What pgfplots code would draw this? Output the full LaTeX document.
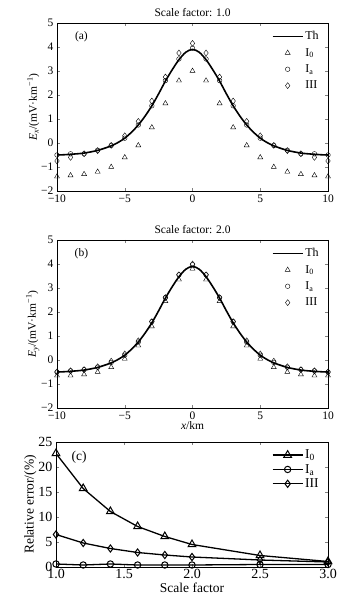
\documentclass[border=0pt]{standalone}
\usepackage{fontspec}
\setmainfont{Liberation Serif}
\usepackage{pgfplots}
\pgfplotsset{compat=1.18}
\begin{document}
\begin{tikzpicture}[x=1pt,y=1pt]
\useasboundingbox (0,0) rectangle (357,601);
\pgfplotsset{
  myax/.style={
    scale only axis, width=271pt, height=168pt,
    xmin=-10, xmax=10, ymin=-2, ymax=5,
    xtick={-10,-5,0,5,10}, xticklabels={−10,−5,0,5,10},
    ytick={-2,-1,0,1,2,3,4,5}, yticklabels={−2,−1,0,1,2,3,4,5},
    tick align=inside, major tick length=3pt,
    tick label style={font=\fontsize{11.5}{13}\selectfont},
    xticklabel style={yshift=0pt},
    label style={font=\fontsize{11.5}{13}\selectfont},
    title style={font=\fontsize{11.5}{13}\selectfont, yshift=-3pt},
    axis line style={line width=0.5pt},
    legend style={draw=none, fill=none, at={(0.985,0.975)}, anchor=north east,
      font=\fontsize{12}{14}\selectfont, row sep=3pt},
    legend cell align=left,
    ylabel style={yshift=-5pt},
  },
  thline/.style={black, line width=1.6pt, smooth, no marks,
    legend image code/.code={\draw[black, line width=1.6pt] (0cm,0cm) -- (1.05cm,0cm);}},
  mk/.style={only marks, mark size=2.6pt, mark options={black, line width=0.4pt, fill=none},
    legend image code/.code={\draw[##1] plot coordinates {(0.525cm,0cm)};}},
}
% ---------- (a)
\begin{axis}[myax, at={(57pt,410pt)}, anchor=south west,
  title={Scale factor: 1.0},
  ylabel={\textit{E\textsubscript{x}}/(mV·km\textsuperscript{−1})}]
\addplot[thline] coordinates {(-10,-0.5)(-9.5,-0.49)(-9,-0.47)(-8.5,-0.45)(-8,-0.42)(-7.5,-0.37)(-7,-0.31)(-6.5,-0.22)(-6,-0.12)(-5.5,0.02)(-5,0.2)(-4.5,0.45)(-4,0.75)(-3.5,1.12)(-3,1.55)(-2.5,2.05)(-2,2.58)(-1.5,3.05)(-1,3.47)(-0.5,3.78)(0,3.9)(0.5,3.78)(1,3.47)(1.5,3.05)(2,2.58)(2.5,2.05)(3,1.55)(3.5,1.12)(4,0.75)(4.5,0.45)(5,0.2)(5.5,0.02)(6,-0.12)(6.5,-0.22)(7,-0.31)(7.5,-0.37)(8,-0.42)(8.5,-0.45)(9,-0.47)(9.5,-0.49)(10,-0.5)};
\addlegendentry{Th}
\addplot[mk, mark=triangle, mark size=2.9pt] coordinates {(-10,-1.4)(-9,-1.35)(-8,-1.3)(-7,-1.2)(-6,-1.0)(-5,-0.6)(-4,-0.1)(-3,0.65)(-2,1.65)(-1,2.6)(0,3.0)(1,2.6)(2,1.65)(3,0.65)(4,-0.1)(5,-0.6)(6,-1.0)(7,-1.2)(8,-1.3)(9,-1.35)(10,-1.4)};
\addlegendentry{I\textsubscript{0}}
\addplot[mk, mark=o, mark size=2.3pt] coordinates {(-10,-0.5)(-9,-0.45)(-8,-0.45)(-7,-0.3)(-6,-0.1)(-5,0.2)(-4,0.75)(-3,1.55)(-2,2.6)(-1,3.5)(0,3.95)(1,3.5)(2,2.6)(3,1.55)(4,0.75)(5,0.2)(6,-0.1)(7,-0.3)(8,-0.45)(9,-0.45)(10,-0.5)};
\addlegendentry{I\textsubscript{a}}
\addplot[mk, mark=diamond, mark size=3pt] coordinates {(-10,-0.75)(-9,-0.6)(-8,-0.45)(-7,-0.32)(-6,-0.1)(-5,0.3)(-4,0.9)(-3,1.75)(-2,2.75)(-1,3.75)(0,4.15)(1,3.75)(2,2.75)(3,1.75)(4,0.9)(5,0.3)(6,-0.1)(7,-0.32)(8,-0.45)(9,-0.6)(10,-0.75)};
\addlegendentry{III}
\node[font=\fontsize{11.5}{13}\selectfont] at (rel axis cs:0.09,0.92) {(a)};
\end{axis}
% ---------- (b)
\begin{axis}[myax, at={(57pt,193pt)}, anchor=south west,
  title={Scale factor: 2.0},
  xlabel={\textit{x}/km}, xlabel style={yshift=5pt},
  ylabel={\textit{E\textsubscript{y}}/(mV·km\textsuperscript{−1})}]
\addplot[thline] coordinates {(-10,-0.5)(-9.5,-0.49)(-9,-0.47)(-8.5,-0.45)(-8,-0.42)(-7.5,-0.37)(-7,-0.31)(-6.5,-0.22)(-6,-0.12)(-5.5,0.02)(-5,0.2)(-4.5,0.45)(-4,0.75)(-3.5,1.12)(-3,1.55)(-2.5,2.05)(-2,2.58)(-1.5,3.05)(-1,3.47)(-0.5,3.78)(0,3.9)(0.5,3.78)(1,3.47)(1.5,3.05)(2,2.58)(2.5,2.05)(3,1.55)(3.5,1.12)(4,0.75)(4.5,0.45)(5,0.2)(5.5,0.02)(6,-0.12)(6.5,-0.22)(7,-0.31)(7.5,-0.37)(8,-0.42)(8.5,-0.45)(9,-0.47)(9.5,-0.49)(10,-0.5)};
\addlegendentry{Th}
\addplot[mk, mark=triangle, mark size=2.9pt] coordinates {(-10,-0.65)(-9,-0.65)(-8,-0.6)(-7,-0.5)(-6,-0.3)(-5,0.05)(-4,0.6)(-3,1.4)(-2,2.45)(-1,3.35)(0,3.8)(1,3.35)(2,2.45)(3,1.4)(4,0.6)(5,0.05)(6,-0.3)(7,-0.5)(8,-0.6)(9,-0.65)(10,-0.65)};
\addlegendentry{I\textsubscript{0}}
\addplot[mk, mark=o, mark size=2.3pt] coordinates {(-10,-0.5)(-9,-0.45)(-8,-0.4)(-7,-0.3)(-6,-0.1)(-5,0.2)(-4,0.75)(-3,1.6)(-2,2.6)(-1,3.55)(0,3.97)(1,3.55)(2,2.6)(3,1.6)(4,0.75)(5,0.2)(6,-0.1)(7,-0.3)(8,-0.4)(9,-0.45)(10,-0.5)};
\addlegendentry{I\textsubscript{a}}
\addplot[mk, mark=diamond, mark size=3pt] coordinates {(-10,-0.5)(-9,-0.45)(-8,-0.4)(-7,-0.28)(-6,-0.05)(-5,0.25)(-4,0.8)(-3,1.6)(-2,2.6)(-1,3.55)(0,4.0)(1,3.55)(2,2.6)(3,1.6)(4,0.8)(5,0.25)(6,-0.05)(7,-0.28)(8,-0.4)(9,-0.45)(10,-0.5)};
\addlegendentry{III}
\node[font=\fontsize{11.5}{13}\selectfont] at (rel axis cs:0.09,0.92) {(b)};
\end{axis}
% ---------- (c)
\begin{axis}[scale only axis, width=272pt, height=125pt,
  at={(56pt,34pt)}, anchor=south west,
  xmin=1, xmax=3, ymin=0, ymax=25,
  xtick={1,1.5,2,2.5,3}, xticklabels={1.0,1.5,2.0,2.5,3.0},
  ytick={0,5,10,15,20,25},
  tick align=inside, major tick length=3pt,
  tick label style={font=\fontsize{14}{16}\selectfont},
  xticklabel style={yshift=1pt},
  /pgf/number format/assume math mode=true,
  label style={font=\fontsize{13.5}{15}\selectfont},
  xlabel={Scale factor}, xlabel style={yshift=3pt},
  ylabel={Relative error/(\%)}, ylabel style={yshift=-5pt},
  legend style={draw=none, fill=none, at={(0.985,0.97)}, anchor=north east,
    font=\fontsize{13.5}{15}\selectfont, row sep=0pt},
  legend cell align=left,
  legend image code/.code={\draw[mark repeat=2,mark phase=2,#1] plot coordinates {(0cm,0cm)(0.525cm,0cm)(1.05cm,0cm)};},
  every axis plot/.append style={black, line width=1.3pt, mark options={black, line width=1pt, fill=none}},
]
\addplot[mark=triangle, mark size=4.5pt] coordinates {(1.0,22.7)(1.2,15.7)(1.4,11.1)(1.6,8.1)(1.8,6.1)(2.0,4.5)(2.5,2.3)(3.0,1.1)};
\addlegendentry{I\textsubscript{0}}
\addplot[mark=o, mark size=3.2pt] coordinates {(1.0,0.6)(1.2,0.4)(1.4,0.6)(1.6,0.4)(1.8,0.4)(2.0,0.4)(2.5,0.5)(3.0,0.5)};
\addlegendentry{I\textsubscript{a}}
\addplot[mark=diamond, mark size=3.6pt] coordinates {(1.0,6.5)(1.2,4.8)(1.4,3.7)(1.6,2.9)(1.8,2.4)(2.0,2.0)(2.5,1.4)(3.0,1.0)};
\addlegendentry{III}
\node[font=\fontsize{13.5}{15}\selectfont] at (rel axis cs:0.085,0.88) {(c)};
\end{axis}
\end{tikzpicture}
\end{document}
